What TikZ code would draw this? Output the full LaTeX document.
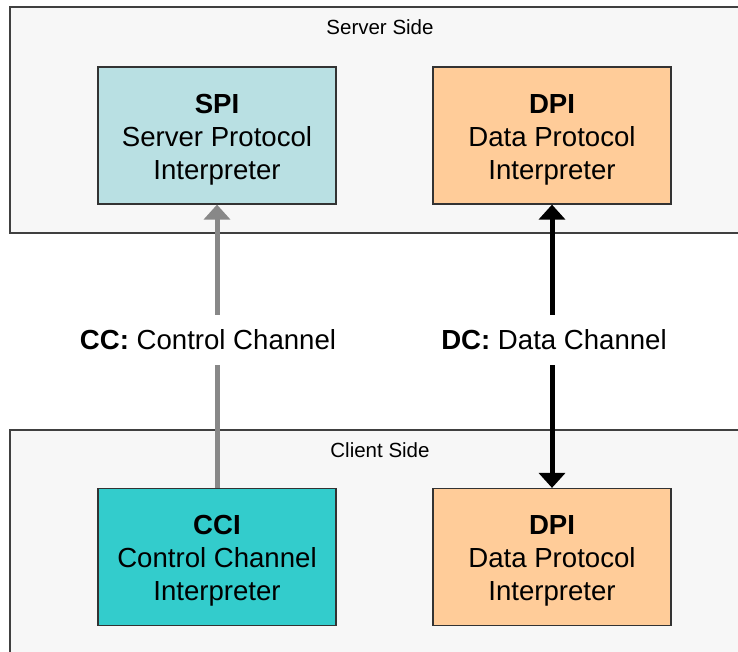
\documentclass[tikz,border=0pt]{standalone}
\usepackage{fontspec}
\setmainfont{Liberation Sans}
\usetikzlibrary{arrows.meta}
\definecolor{sidebg}{RGB}{247,247,247}
\definecolor{sideborder}{RGB}{64,64,64}
\definecolor{spifill}{RGB}{185,224,227}
\definecolor{ccifill}{RGB}{51,204,204}
\definecolor{dpifill}{RGB}{255,204,153}
\definecolor{ccgray}{RGB}{136,136,136}
\tikzset{
  sidebox/.style={draw=sideborder, fill=sidebg, line width=1.2pt, rectangle, inner sep=0pt},
  sidelabel/.style={font=\fontsize{20.5}{24}\selectfont, inner sep=0pt},
  interp/.style={draw=black!80, line width=1.2pt, rectangle, minimum width=238pt, minimum height=137pt,
    inner sep=0pt},
  interptext/.style={inner sep=0pt, align=center, font=\fontsize{27.6}{33}\selectfont},
  chanarrow/.style={line width=5pt, -{Triangle[width=26pt,length=15pt]}},
  chanlabel/.style={fill=white, inner xsep=4pt, inner ysep=0pt, minimum height=50pt,
    font=\fontsize{27.6}{33}\selectfont}
}
\begin{document}
\begin{tikzpicture}[x=1pt,y=-1pt]
\useasboundingbox (0,0) rectangle (738,651);
\clip (0,0) rectangle (738,651);
% side areas
\node[sidebox, minimum width=750pt, minimum height=226pt] (server) at (385,120) {};
\node[sidebox, minimum width=750pt, minimum height=250pt] (client) at (385,555) {};
\node[sidelabel] (serverlbl) at (380,27) {Server Side};
\node[sidelabel] (clientlbl) at (380,450) {Client Side};
% interpreters
\node[interp, fill=spifill] (spi) at (217,135.5) {};
\node[interp, fill=dpifill] (dpis) at (552,135.5) {};
\node[interp, fill=ccifill] (cci) at (217,557) {};
\node[interp, fill=dpifill] (dpic) at (552,557) {};
\node[interptext] (spitxt) at ([yshift=-4pt]spi.center) {\textbf{SPI}\\Server Protocol\\Interpreter};
\node[interptext] (dpistxt) at ([yshift=-4pt]dpis.center) {\textbf{DPI}\\Data Protocol\\Interpreter};
\node[interptext] (ccitxt) at ([yshift=-4pt]cci.center) {\textbf{CCI}\\Control Channel\\Interpreter};
\node[interptext] (dpictxt) at ([yshift=-4pt]dpic.center) {\textbf{DPI}\\Data Protocol\\Interpreter};
% channels
\draw[chanarrow, draw=ccgray, fill=ccgray] (cci.north) -- (spi.south);
\draw[chanarrow, {Triangle[width=26pt,length=15pt]}-{Triangle[width=26pt,length=15pt]}, draw=black, fill=black] (dpic.north) -- (dpis.south);
\node[chanlabel] (cclbl) at (208,340) {\textbf{CC:} Control Channel};
\node[chanlabel] (dclbl) at (554,340) {\textbf{DC:} Data Channel};
\end{tikzpicture}
\end{document}
